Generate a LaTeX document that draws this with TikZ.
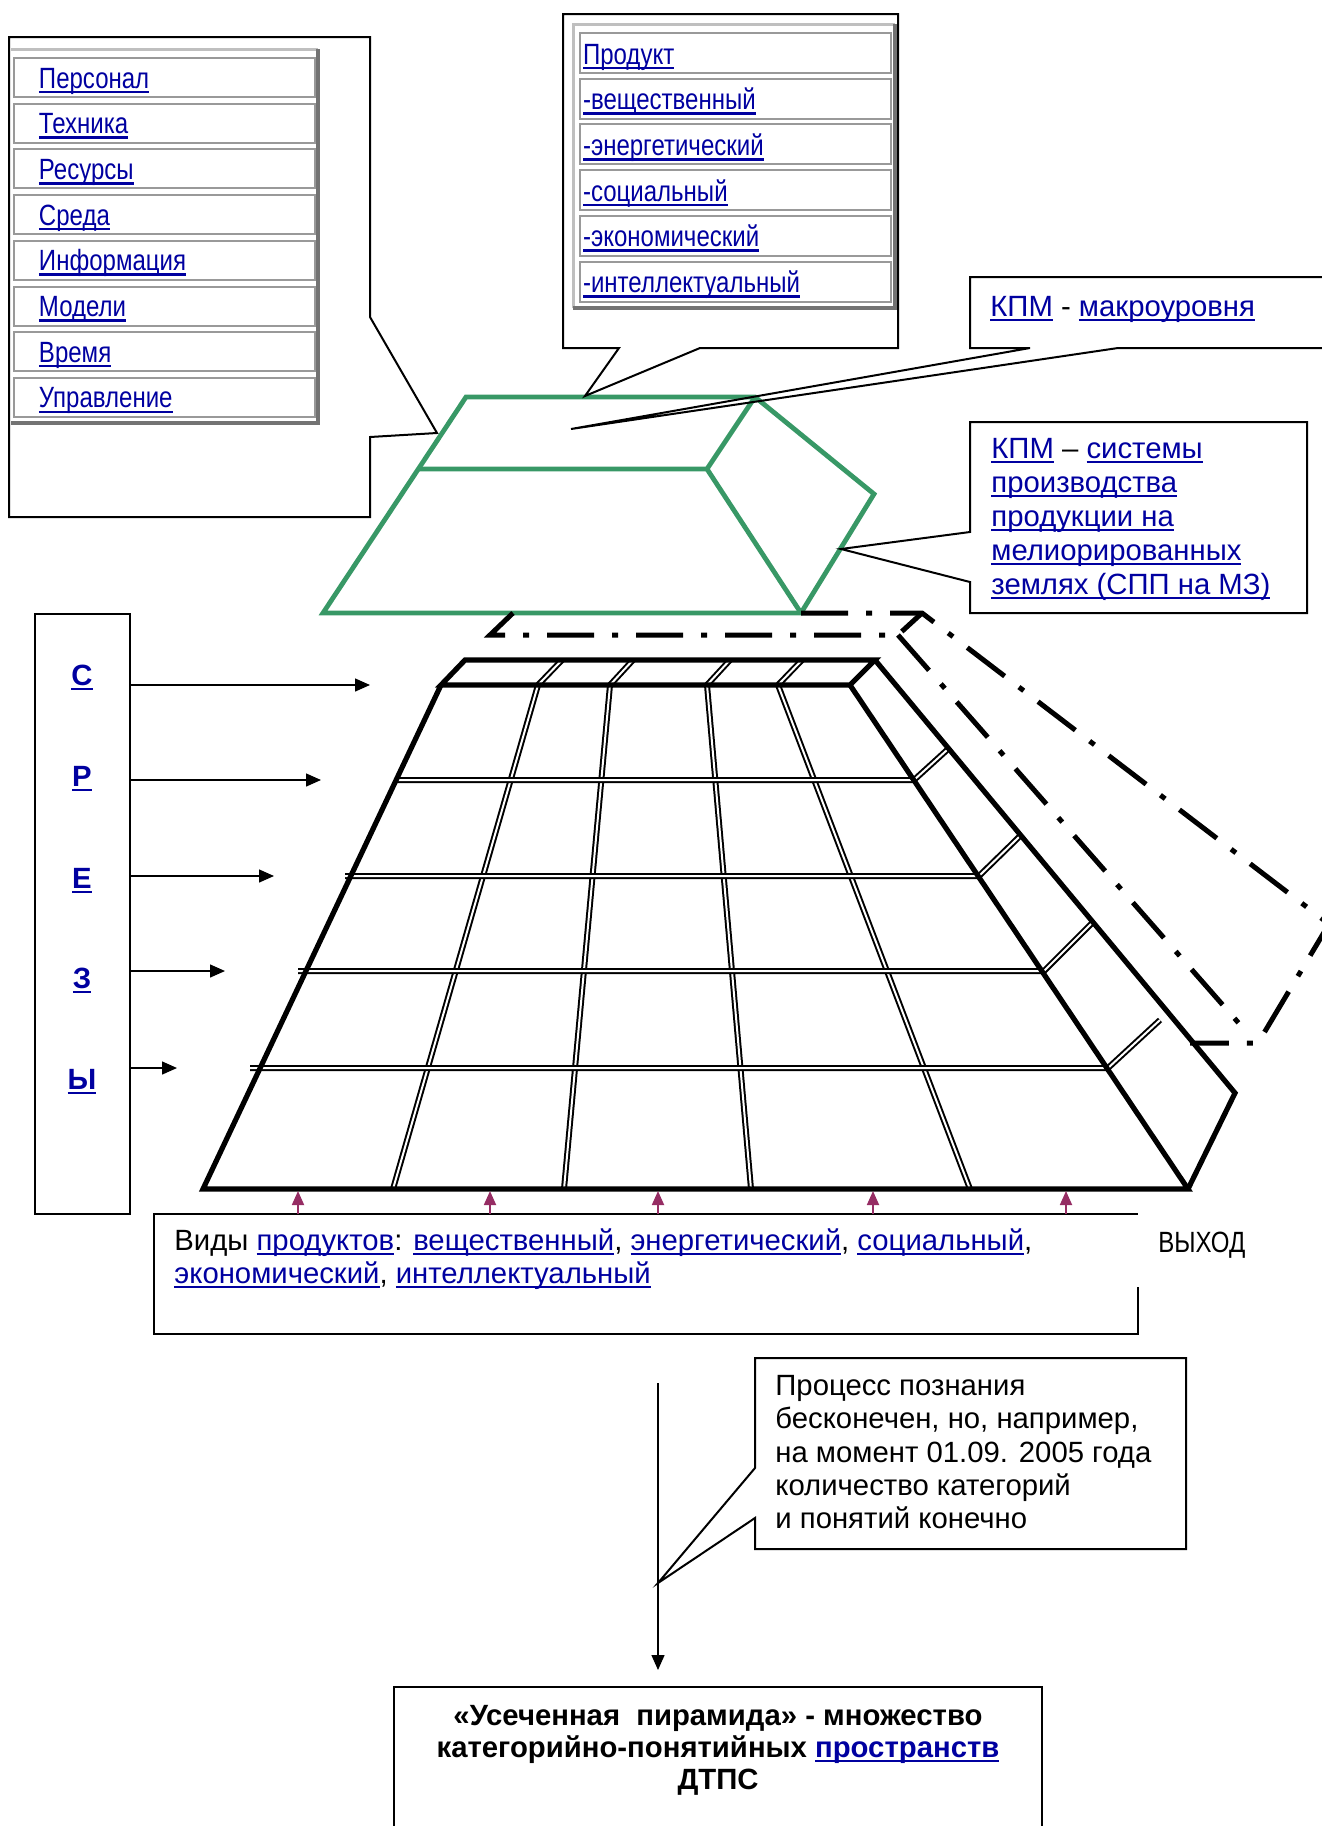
\documentclass[tikz,border=0pt]{standalone}
\usepackage{fontspec}
\setmainfont{Liberation Sans}
\newfontfamily\narrowfont[FakeStretch=0.82]{Liberation Sans}
\usetikzlibrary{arrows.meta}

\definecolor{linkblue}{RGB}{0,0,160}
\definecolor{kpmgreen}{RGB}{56,152,102}
\definecolor{outpurple}{RGB}{150,45,100}
\newsavebox{\ulbox}
\newcommand{\lnk}[1]{\textcolor{linkblue}{\sbox{\ulbox}{#1}\rlap{\rule[-2.6pt]{\wd\ulbox}{1.3pt}}\usebox{\ulbox}}}

\tikzset{
  txt/.style={anchor=base west, inner sep=0pt, font=\fontsize{14.65pt}{17pt}\selectfont},
  boldtxt/.style={anchor=base, inner sep=0pt, font=\bfseries\fontsize{14.65pt}{17pt}\selectfont},
  lcell/.style={anchor=north west, draw=black!40, line width=1pt, inner xsep=12.5pt, inner ysep=1.5pt,
    text width=125.5pt, text height=13.5pt, text depth=3pt, align=left,
    font=\narrowfont\fontsize{14.65pt}{17pt}\selectfont},
  pcell/.style={lcell, inner xsep=1.5pt, text width=152.5pt, text height=14pt, text depth=3pt},
  callout/.style={draw, line width=1pt},
  pyr/.style={draw, line width=2.6pt},
  dbl/.style={draw=black, line width=1pt, double=white, double distance=1pt},
  grn/.style={draw=kpmgreen, line width=2.4pt},
  dashdot/.style={draw, line width=2.5pt, dash pattern=on 23.5pt off 9pt on 3pt off 9pt},
  inarrow/.style={-{Triangle[length=7.5pt,width=6.5pt]}, line width=0.7pt},
  outarrow/.style={-{Triangle[length=7pt,width=6pt]}, draw=outpurple, fill=outpurple, line width=0.9pt},
}

\begin{document}
\begin{tikzpicture}[x=0.5pt, y=-0.5pt]
  \useasboundingbox (0,0) rectangle (1322,1826);

  \draw[black!25, line width=1.5pt] (11,49) -- (318,49);
  \draw[black!55, line width=2pt] (318,49) -- (318,423) -- (11,423);
  \begin{scope}[every node/.style=lcell]
    \node (p1) at (13,57) {\lnk{Персонал}};
    \node (p2) at (13,102.7) {\lnk{Техника}};
    \node (p3) at (13,148.4) {\lnk{Ресурсы}};
    \node (p4) at (13,194.1) {\lnk{Среда}};
    \node (p5) at (13,239.8) {\lnk{Информация}};
    \node (p6) at (13,285.5) {\lnk{Модели}};
    \node (p7) at (13,331.2) {\lnk{Время}};
    \node (p8) at (13,376.9) {\lnk{Управление}};
  \end{scope}

  \draw[black!25, line width=1.5pt] (573,308) -- (573,24) -- (895,24);
  \draw[black!55, line width=2pt] (895,24) -- (895,308) -- (573,308);
  \begin{scope}[every node/.style=pcell]
    \node (q1) at (579,32) {\lnk{Продукт}};
    \node (q2) at (579,77.7) {\lnk{-вещественный}};
    \node (q3) at (579,123.4) {\lnk{-энергетический}};
    \node (q4) at (579,169.1) {\lnk{-социальный}};
    \node (q5) at (579,214.8) {\lnk{-экономический}};
    \node (q6) at (579,260.5) {\lnk{-интеллектуальный}};
  \end{scope}

  \begin{scope}[grn]
    \draw (466,397) -- (755,397) -- (874,494) -- (801,613) -- (323,613) -- cycle;
    \draw (418,469) -- (707,469) -- (755,397);
    \draw (707,469) -- (801,613);
  \end{scope}

  \begin{scope}[callout]
    \draw (9,37) -- (370,37) -- (370,317) -- (437,433) -- (370,437) -- (370,517) -- (9,517) -- cycle;
    \draw (563,14) -- (898,14) -- (898,348) -- (700,348) -- (585,396) -- (619,348) -- (563,348) -- cycle;
    \draw (970,277) -- (1340,277) -- (1340,348) -- (1118,348) -- (571,429) -- (1030,348) -- (970,348) -- cycle;
    \draw (970,422) -- (1307,422) -- (1307,613) -- (970,613) -- (970,582) -- (841,549) -- (970,532) -- cycle;
    \draw (1138,1287) -- (1138,1334) -- (154,1334) -- (154,1214) -- (1138,1214);
    \draw (755,1358) -- (1186,1358) -- (1186,1549) -- (755,1549) -- (755,1518) -- (658,1583) -- (755,1468) -- cycle;
    \draw (394,1850) -- (394,1687) -- (1042,1687) -- (1042,1850);
  \end{scope}

  \begin{scope}[dashdot]
    \draw (801,613) -- (922,613) -- (1329,924) -- (1258,1043) -- (1190,1043);
    \draw (513,613) -- (490,635) -- (898,635) -- (922,613);
    \draw (898,635) -- (1243,1028);
  \end{scope}

  \draw[dbl] (562,660) -- (538,685) -- (393,1189);
  \draw[dbl] (633,660) -- (610,685) -- (564,1189);
  \draw[dbl] (730,660) -- (707,685) -- (751,1189);
  \draw[dbl] (802,660) -- (778,685) -- (970,1189);
  \draw[dbl] (395,780) -- (914,780) -- (947,750);
  \draw[dbl] (345,876) -- (979,876) -- (1020,836);
  \draw[dbl] (298,971) -- (1044,971) -- (1092,923);
  \draw[dbl] (250,1068) -- (1108,1068) -- (1160,1020);

  \begin{scope}[pyr]
    \draw (465,660) -- (875,660) -- (850,685) -- (441,685) -- cycle;
    \draw (441,685) -- (203,1189) -- (1188,1189) -- (850,685);
    \draw (875,660) -- (1235,1093) -- (1188,1189);
  \end{scope}

  \node (srezy) [draw, line width=1pt, minimum width=47.5pt, minimum height=300pt, inner sep=0pt] at (82.5,913.5) {};
  \node (s1) [boldtxt] at (82,685) {\lnk{С}};
  \node (s2) [boldtxt] at (82,786) {\lnk{Р}};
  \node (s3) [boldtxt] at (82,888) {\lnk{Е}};
  \node (s4) [boldtxt] at (82,988) {\lnk{З}};
  \node (s5) [boldtxt] at (82,1089) {\lnk{Ы}};

  \coordinate (in1) at (370,685);
  \coordinate (in2) at (321,780);
  \coordinate (in3) at (274,876);
  \coordinate (in4) at (225,971);
  \coordinate (in5) at (177,1068);
  \draw[inarrow] (srezy.east |- in1) -- (in1);
  \draw[inarrow] (srezy.east |- in2) -- (in2);
  \draw[inarrow] (srezy.east |- in3) -- (in3);
  \draw[inarrow] (srezy.east |- in4) -- (in4);
  \draw[inarrow] (srezy.east |- in5) -- (in5);

  \coordinate (b1) at (298,1214);
  \coordinate (b2) at (490,1214);
  \coordinate (b3) at (658,1214);
  \coordinate (b4) at (873,1214);
  \coordinate (b5) at (1066,1214);
  \coordinate (o1) at (298,1191);
  \coordinate (o2) at (490,1191);
  \coordinate (o3) at (658,1191);
  \coordinate (o4) at (873,1191);
  \coordinate (o5) at (1066,1191);
  \draw[outarrow] (b1) -- (o1);
  \draw[outarrow] (b2) -- (o2);
  \draw[outarrow] (b3) -- (o3);
  \draw[outarrow] (b4) -- (o4);
  \draw[outarrow] (b5) -- (o5);

  \coordinate (down1) at (658,1383);
  \coordinate (down2) at (658,1670);
  \draw[inarrow] (down1) -- (down2);

  \node (kpm1) [txt] at (990,316) {\lnk{КПМ} - \lnk{макроуровня}};
  \node (kpm2) [txt] at (991,458) {\lnk{КПМ} – \lnk{системы}};
  \node (kpm3) [txt] at (991,492) {\lnk{производства}};
  \node (kpm4) [txt] at (991,526) {\lnk{продукции на}};
  \node (kpm5) [txt] at (991,560) {\lnk{мелиорированных}};
  \node (kpm6) [txt] at (991,594) {\lnk{землях (СПП на МЗ)}};

  \node (types1) [txt] at (174,1250) {Виды \lnk{продуктов}: \lnk{вещественный}, \lnk{энергетический}, \lnk{социальный},};
  \node (types2) [txt] at (174,1283) {\lnk{экономический}, \lnk{интеллектуальный}};
  \node (exit) [txt, font=\narrowfont\fontsize{14.65pt}{17pt}\selectfont] at (1158,1252) {ВЫХОД};

  \node (proc1) [txt] at (775,1395) {Процесс познания};
  \node (proc2) [txt] at (775,1428) {бесконечен, но, например,};
  \node (proc3) [txt] at (775,1462) {на момент 01.09. 2005 года};
  \node (proc4) [txt] at (775,1495) {количество категорий};
  \node (proc5) [txt] at (775,1528) {и понятий конечно};

  \node (res1) [boldtxt] at (718,1725) {«Усеченная\ \ пирамида» - множество};
  \node (res2) [boldtxt] at (718,1757) {категорийно-понятийных \lnk{пространств}};
  \node (res3) [boldtxt] at (718,1789) {ДТПС};
\end{tikzpicture}
\end{document}
